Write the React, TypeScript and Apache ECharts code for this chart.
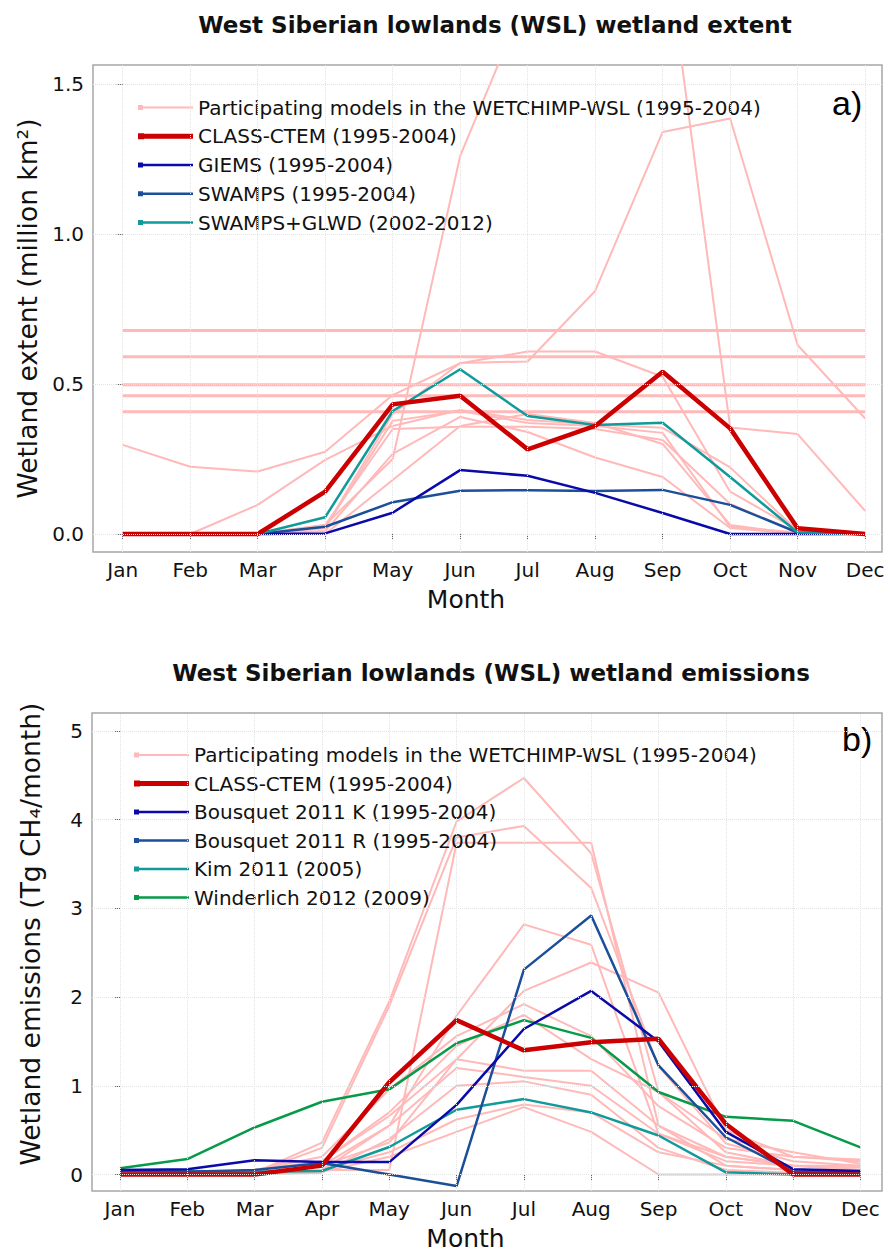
import React, { useEffect, useRef } from 'react';
import * as echarts from 'echarts';

// ---------- data ----------
const months = ['Jan', 'Feb', 'Mar', 'Apr', 'May', 'Jun', 'Jul', 'Aug', 'Sep', 'Oct', 'Nov', 'Dec'];
const monthPos = [0, 1, 2, 3, 4, 5, 6, 7, 8, 9, 10, 11];
const extentTicks = [0, 0.5, 1.0, 1.5];
const emissionTicks = [0, 1, 2, 3, 4, 5];

const PINK = 'Participating models in the WETCHIMP-WSL (1995-2004)';
const CTEM = 'CLASS-CTEM (1995-2004)';
const GIEMS = 'GIEMS (1995-2004)';
const SWAMPS = 'SWAMPS (1995-2004)';
const SWGLWD = 'SWAMPS+GLWD (2002-2012)';
const BK = 'Bousquet 2011 K (1995-2004)';
const BR = 'Bousquet 2011 R (1995-2004)';
const KIM = 'Kim 2011 (2005)';
const WIN = 'Winderlich 2012 (2009)';

// wetland extent (million km2)
const extentCtem = [0, 0, 0, 0.141, 0.432, 0.461, 0.282, 0.36, 0.541, 0.352, 0.019, 0];
const extentGiems = [0, 0, 0, 0.002, 0.071, 0.213, 0.194, 0.137, 0.07, 0.0, 0, 0];
const extentSwamps = [0, 0, 0, 0.024, 0.106, 0.144, 0.146, 0.143, 0.147, 0.097, 0.005, 0];
const extentSwampsGlwd = [0, 0, 0, 0.056, 0.41, 0.549, 0.393, 0.363, 0.371, 0.19, 0.005, 0];

const extentModelC1 = [0.678, 0.678, 0.678, 0.678, 0.678, 0.678, 0.678, 0.678, 0.678, 0.678, 0.678, 0.678];
const extentModelC2 = [0.591, 0.591, 0.591, 0.591, 0.591, 0.591, 0.591, 0.591, 0.591, 0.591, 0.591, 0.591];
const extentModelC3 = [0.497, 0.497, 0.497, 0.497, 0.497, 0.497, 0.497, 0.497, 0.497, 0.497, 0.497, 0.497];
const extentModelC4 = [0.461, 0.461, 0.461, 0.461, 0.461, 0.461, 0.461, 0.461, 0.461, 0.461, 0.461, 0.461];
const extentModelC5 = [0.407, 0.407, 0.407, 0.407, 0.407, 0.407, 0.407, 0.407, 0.407, 0.407, 0.407, 0.407];
const extentModelA = [0, 0, 0, 0.03, 0.25, 1.26, 1.8, 2.0, 2.05, 0.355, 0.333, 0.077];
const extentModelB = [0, 0, 0, 0.02, 0.4, 0.57, 0.575, 0.81, 1.34, 1.385, 0.63, 0.385];
const extentModelC = [0.297, 0.224, 0.208, 0.274, 0.463, 0.569, 0.608, 0.608, 0.524, 0.141, 0.013, 0];
const extentModelD = [0, 0, 0.097, 0.247, 0.36, 0.413, 0.38, 0.365, 0.354, 0.222, 0.01, 0];
const extentModelE = [0, 0, 0, 0.02, 0.377, 0.41, 0.37, 0.36, 0.337, 0.024, 0.005, 0];
const extentModelF = [0, 0, 0, 0.01, 0.267, 0.39, 0.34, 0.255, 0.19, 0.02, 0, 0];
const extentModelG = [0, 0, 0, 0.03, 0.35, 0.357, 0.357, 0.35, 0.313, 0.1, 0.005, 0];
const extentModelH = [0, 0, 0, 0.0, 0.18, 0.36, 0.4, 0.37, 0.3, 0.03, 0, 0];

// wetland emissions (Tg CH4 / month)
const emisCtem = [0, 0, 0, 0.1, 1.04, 1.74, 1.4, 1.49, 1.53, 0.57, 0.0, 0.0];
const emisBousquetK = [0.05, 0.06, 0.16, 0.14, 0.14, 0.785, 1.64, 2.07, 1.5, 0.48, 0.06, 0.04];
const emisBousquetR = [0.04, 0.03, 0.05, 0.13, 0.0, -0.13, 2.31, 2.92, 1.23, 0.42, 0.03, 0.03];
const emisKim = [0.05, 0.04, 0.03, 0.04, 0.31, 0.73, 0.85, 0.7, 0.44, 0.025, 0.0, 0.0];
const emisWinderlich = [0.07, 0.174, 0.53, 0.82, 0.96, 1.48, 1.74, 1.54, 0.93, 0.65, 0.605, 0.306];

const emisModel1 = [0, 0, 0.02, 0.36, 1.95, 3.98, 4.47, 3.62, 0.93, 0.25, 0.1, 0.05];
const emisModel2 = [0, 0, 0.02, 0.3, 1.9, 3.8, 3.93, 3.23, 1.22, 0.35, 0.15, 0.1];
const emisModel3 = [0, 0, 0, 0.05, 0.05, 3.74, 3.74, 3.74, 0.55, 0.1, 0.05, 0.03];
const emisModel4 = [0, 0, 0, 0.1, 0.55, 1.79, 2.82, 2.59, 0.46, 0.2, 0.1, 0.05];
const emisModel5 = [0, 0, 0.02, 0.15, 0.66, 1.3, 2.07, 2.39, 2.05, 0.5, 0.2, 0.15];
const emisModel6 = [0, 0, 0.05, 0.2, 0.96, 1.56, 1.92, 1.56, 0.77, 0.3, 0.2, 0.17];
const emisModel7 = [0, 0, 0.02, 0.1, 0.36, 1.3, 1.17, 1.17, 0.55, 0.2, 0.1, 0.1];
const emisModel8 = [0, 0, 0, 0.05, 0.55, 1.2, 1.1, 1.0, 0.46, 0.15, 0.1, 0.08];
const emisModel9 = [0.02, 0.02, 0.03, 0.05, 0.25, 0.62, 0.79, 0.7, 0.25, 0.1, 0.05, 0.05];
const emisModel10 = [0, 0, 0, 0.03, 0.2, 0.48, 0.76, 0.48, 0, 0, 0, 0];
const emisModel11 = [0, 0, 0.05, 0.15, 0.7, 1.45, 1.8, 1.3, 0.93, 0.4, 0.25, 0.12];
const emisModel12 = [0, 0, 0, 0.02, 0.4, 1.0, 1.05, 0.9, 0.3, 0.05, 0.02, 0.02];

// ---------- styles ----------
const FONT = 'DejaVu Sans';
const C_PINK = '#ffb9b9';
const C_RED = '#cc0000';
const C_DBLUE = '#0a0aa8';
const C_BLUE = '#1c4f9a';
const C_TEAL = '#119a9a';
const C_GREEN = '#079a48';

// legend glyphs: a line with a small square at its left end (bbox 55 x 14)
const CORNERS = 'M0,0L0.01,0L0,0.01Z M55,14L54.99,14L55,13.99Z ';
const ICON_THIN = 'path://' + CORNERS + 'M0,4.5H5V9.5H0Z M0,5.75H55V8.25H0Z';
const ICON_PINK = 'path://' + CORNERS + 'M0,4.5H5V9.5H0Z M0,6H55V8H0Z';
const ICON_THICK = 'path://' + CORNERS + 'M0,4H6V10H0Z M0,4.6H55V9.4H0Z';

function line(name: string, values: number[], color: string, width: number, axis: number, z: number) {
  return {
    type: 'line',
    name,
    xAxisIndex: axis,
    yAxisIndex: axis,
    data: values.map((v, i) => [monthPos[i], v]),
    symbol: 'none',
    showSymbol: false,
    lineStyle: { color, width },
    itemStyle: { color },
    z,
    clip: true,
    silent: true,
    emphasis: { disabled: true },
  };
}

function gridSeries(axis: number, ticks: number[]) {
  return {
    type: 'line',
    name: 'grid' + axis,
    xAxisIndex: axis,
    yAxisIndex: axis,
    data: [],
    z: 1,
    silent: true,
    markLine: {
      silent: true,
      symbol: 'none',
      animation: false,
      label: { show: false },
      lineStyle: { color: '#e4e4e4', type: 'dotted', width: 1 },
      data: [...monthPos.map((m) => ({ xAxis: m })), ...ticks.map((t) => ({ yAxis: t }))],
    },
  };
}

function xAxis(grid: number, min: number, max: number) {
  return {
    type: 'value',
    gridIndex: grid,
    min,
    max,
    axisLine: { show: false },
    splitLine: { show: false },
    axisTick: { show: true, length: 6, customValues: monthPos, lineStyle: { color: '#666', width: 1 } },
    axisLabel: {
      customValues: monthPos,
      formatter: (v: number) => months[Math.round(v)] ?? '',
      fontSize: 20,
      fontFamily: FONT,
      color: '#111',
      margin: 8,
    },
    name: 'Month',
    nameLocation: 'middle',
    nameGap: 35,
    nameTextStyle: { fontSize: 25, fontFamily: FONT, color: '#111', padding: [0, 43, 0, 0] },
  };
}

function yAxis(grid: number, min: number, max: number, ticks: number[], name: string, digits: number, shift: number) {
  return {
    type: 'value',
    gridIndex: grid,
    min,
    max,
    axisLine: { show: false },
    splitLine: { show: false },
    axisTick: { show: true, length: 6, customValues: ticks, lineStyle: { color: '#666', width: 1 } },
    axisLabel: {
      customValues: ticks,
      formatter: (v: number) => v.toFixed(digits),
      fontSize: 20,
      fontFamily: FONT,
      color: '#111',
      margin: 9,
    },
    name,
    nameLocation: 'middle',
    nameGap: 48,
    nameTextStyle: { fontSize: 26.5, fontFamily: FONT, color: '#111', padding: [0, 0, 0, shift] },
  };
}

function legend(left: number, top: number, gap: number, items: { name: string; icon: string }[]) {
  return {
    orient: 'vertical',
    left,
    top,
    itemWidth: 55,
    itemHeight: 14,
    itemGap: gap,
    selectedMode: false,
    textStyle: { fontSize: 20, fontFamily: FONT, color: '#111', lineHeight: 22 },
    data: items,
  };
}

export default function App() {
  const ref = useRef<HTMLDivElement>(null);

  useEffect(() => {
    if (!ref.current) return;
    const chart = echarts.init(ref.current, undefined, { renderer: 'svg' });

    const extentPink = [
      extentModelC1, extentModelC2, extentModelC3, extentModelC4, extentModelC5,
    ].map((d) => line(PINK, d, C_PINK, 3, 0, 2));
    const extentPink2 = [
      extentModelA, extentModelB, extentModelC, extentModelD, extentModelE, extentModelF, extentModelG, extentModelH,
    ].map((d) => line(PINK, d, C_PINK, 2, 0, 2));
    const emisPink = [
      emisModel1, emisModel2, emisModel3, emisModel4, emisModel5, emisModel6,
      emisModel7, emisModel8, emisModel9, emisModel10, emisModel11, emisModel12,
    ].map((d) => line(PINK, d, C_PINK, 2, 1, 2));

    chart.setOption({
      animation: false,
      backgroundColor: '#ffffff',
      title: [
        {
          text: 'West Siberian lowlands (WSL) wetland extent',
          left: 490,
          top: 8,
          textAlign: 'center',
          textStyle: { fontSize: 23, fontWeight: 'bold', fontFamily: FONT, color: '#111' },
        },
        {
          text: 'West Siberian lowlands (WSL) wetland emissions',
          left: 486,
          top: 656,
          textAlign: 'center',
          textStyle: { fontSize: 23, fontWeight: 'bold', fontFamily: FONT, color: '#111' },
        },
      ],
      grid: [
        { left: 93, top: 65, width: 789, height: 487, show: true, borderColor: '#a6a6a6', borderWidth: 1.5, backgroundColor: '#fff' },
        { left: 92, top: 713, width: 790, height: 479, show: true, borderColor: '#a6a6a6', borderWidth: 1.5, backgroundColor: '#fff' },
      ],
      xAxis: [xAxis(0, -0.44, 11.25), xAxis(1, -0.416, 11.32)],
      yAxis: [
        yAxis(0, -0.06, 1.563, extentTicks, 'Wetland extent (million km²)', 1, 0),
        yAxis(1, -0.186, 5.203, emissionTicks, 'Wetland emissions (Tg CH₄/month)', 0, 36),
      ],
      legend: [
        legend(133, 91.5, 6.75, [
          { name: PINK, icon: ICON_PINK },
          { name: CTEM, icon: ICON_THICK },
          { name: GIEMS, icon: ICON_THIN },
          { name: SWAMPS, icon: ICON_THIN },
          { name: SWGLWD, icon: ICON_THIN },
        ]),
        legend(129, 739, 6.5, [
          { name: PINK, icon: ICON_PINK },
          { name: CTEM, icon: ICON_THICK },
          { name: BK, icon: ICON_THIN },
          { name: BR, icon: ICON_THIN },
          { name: KIM, icon: ICON_THIN },
          { name: WIN, icon: ICON_THIN },
        ]),
      ],
      graphic: [
        { type: 'text', left: 832, top: 86, style: { text: 'a)', fontSize: 34, fontFamily: 'Liberation Sans', fill: '#000' } },
        { type: 'text', left: 842, top: 722, style: { text: 'b)', fontSize: 34, fontFamily: 'Liberation Sans', fill: '#000' } },
      ],
      series: [
        gridSeries(0, extentTicks),
        gridSeries(1, emissionTicks),
        ...extentPink,
        ...extentPink2,
        line(SWAMPS, extentSwamps, C_BLUE, 2.5, 0, 3),
        line(GIEMS, extentGiems, C_DBLUE, 2.5, 0, 3),
        line(SWGLWD, extentSwampsGlwd, C_TEAL, 2.5, 0, 3),
        line(CTEM, extentCtem, C_RED, 4.5, 0, 4),
        ...emisPink,
        line(KIM, emisKim, C_TEAL, 2.5, 1, 3),
        line(WIN, emisWinderlich, C_GREEN, 2.5, 1, 3),
        line(BR, emisBousquetR, C_BLUE, 2.5, 1, 3),
        line(BK, emisBousquetK, C_DBLUE, 2.5, 1, 3),
        line(CTEM, emisCtem, C_RED, 4.5, 1, 4),
      ],
    });

    return () => chart.dispose();
  }, []);

  return (
    <div
      ref={ref}
      style={{ position: 'fixed', left: 0, top: 0, width: 893, height: 1252, background: '#fff' }}
    />
  );
}
